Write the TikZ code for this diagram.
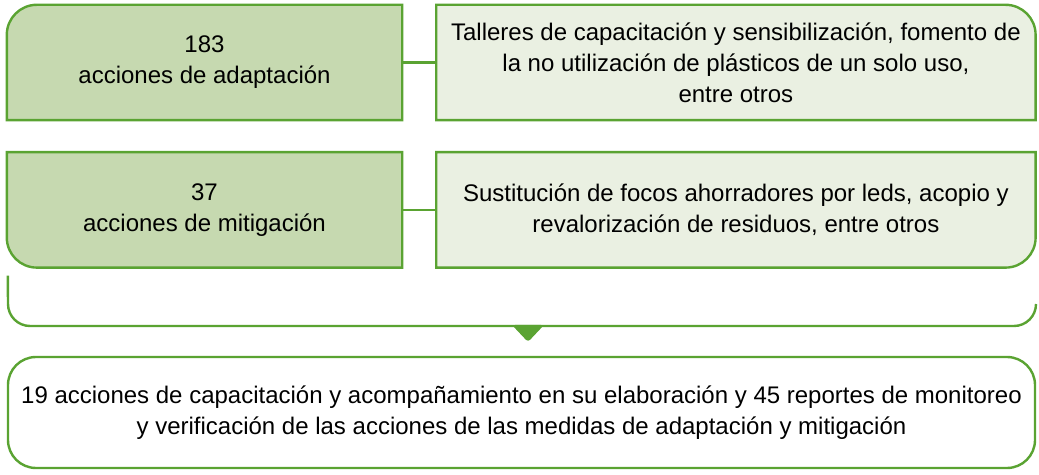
\documentclass[tikz,border=0pt]{standalone}
\usepackage{fontspec}
\setmainfont{Liberation Sans}
\usetikzlibrary{positioning,backgrounds}
\definecolor{leafline}{HTML}{5AA332}
\definecolor{countfill}{HTML}{C6D9B0}
\definecolor{notefill}{HTML}{EAF0E2}
\begin{document}
\begin{tikzpicture}[
    x=1pt, y=1pt,
    every node/.style={font=\fontsize{24}{31}\selectfont, align=center, inner sep=0pt},
    count/.style={minimum width=395pt, minimum height=115pt},
    note/.style={minimum width=599pt, minimum height=115pt},
    countshape/.style={draw=leafline, line width=2.4pt, fill=countfill},
    noteshape/.style={draw=leafline, line width=2.4pt, fill=notefill},
    link/.style={draw=leafline, line width=2.4pt},
    total/.style={draw=leafline, line width=2.4pt, rounded corners=28pt,
        minimum width=1027pt, minimum height=111pt}
    ]
    \useasboundingbox (0,0) rectangle (1039,474);
    \node[count] (adapt) at (204.5,411.5) {183\\acciones de adaptación};
    \node[note, right=34pt of adapt] (adaptnote)
        {Talleres de capacitación y sensibilización, fomento de\\
         la no utilización de plásticos de un solo uso,\\
         entre otros};
    \node[count, below=32pt of adapt] (mitig) {37\\acciones de mitigación};
    \node[note, right=34pt of mitig] (mitignote)
        {Sustitución de focos ahorradores por leds, acopio y\\
         revalorización de residuos, entre otros};
    \node[total] (support) at (521.5,61.5)
        {19 acciones de capacitación y acompañamiento en su elaboración y 45 reportes de monitoreo\\
         y verificación de las acciones de las medidas de adaptación y mitigación};
    \coordinate (brace) at ([xshift=1pt, yshift=-8pt]mitig.south west);
    \coordinate (tip) at (528,132);
    \begin{pgfonlayer}{background}
        \path[countshape] (adapt.south west) -- ([yshift=-30pt]adapt.north west)
            arc[start angle=180, end angle=90, radius=30pt] -- (adapt.north east)
            -- (adapt.south east) -- cycle;
        \path[noteshape] (adaptnote.south west) -- (adaptnote.north west)
            -- ([xshift=-30pt]adaptnote.north east)
            arc[start angle=90, end angle=0, radius=30pt] -- (adaptnote.south east) -- cycle;
        \path[countshape] (mitig.north east) -- (mitig.north west)
            -- ([yshift=30pt]mitig.south west)
            arc[start angle=180, end angle=270, radius=30pt] -- (mitig.south east) -- cycle;
        \path[noteshape] (mitignote.south west) -- (mitignote.north west)
            -- (mitignote.north east) -- ([yshift=30pt]mitignote.south east)
            arc[start angle=0, end angle=-90, radius=30pt] -- cycle;
    \end{pgfonlayer}
    \draw[link] (adapt) -- (adaptnote);
    \draw[link] (mitig) -- (mitignote);
    \draw[link] (brace) -- (8,170) arc[start angle=180, end angle=270, radius=22pt]
        -- (1014,148) arc[start angle=270, end angle=360, radius=22pt];
    \fill[leafline, rounded corners=3pt] (512,149) -- (tip) -- (544,149) -- cycle;
\end{tikzpicture}
\end{document}
